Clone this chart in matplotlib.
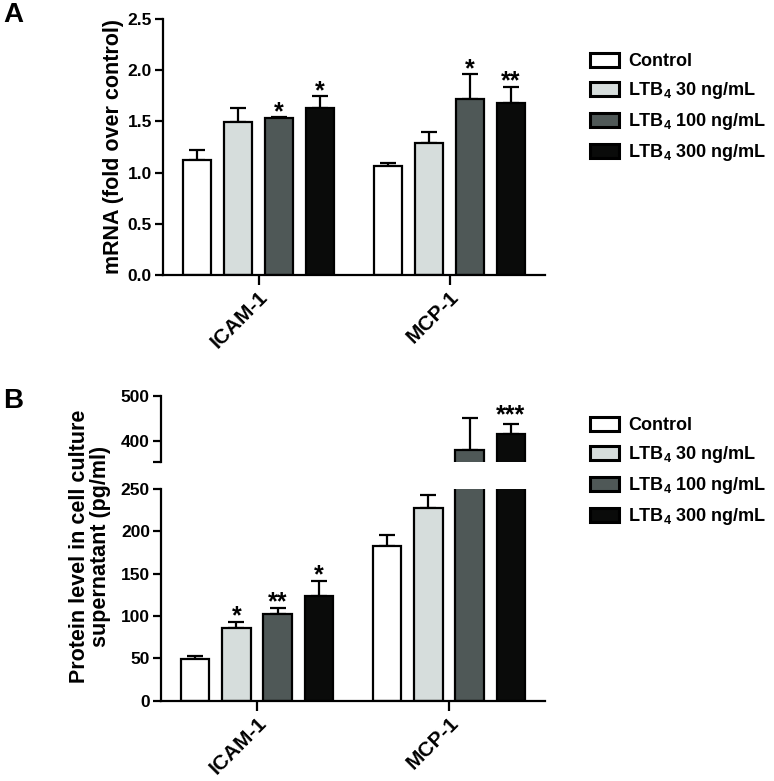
import numpy as np
import matplotlib
matplotlib.use('Agg')
import matplotlib.pyplot as plt
from matplotlib.patches import Patch

plt.rcParams['font.family'] = ['Liberation Sans', 'DejaVu Sans']
plt.rcParams['font.weight'] = 'bold'
plt.rcParams['mathtext.fontset'] = 'custom'
plt.rcParams['mathtext.rm'] = 'Liberation Sans:bold'
plt.rcParams['mathtext.it'] = 'Liberation Sans:bold'
plt.rcParams['mathtext.bf'] = 'Liberation Sans:bold'

# data
genes = ['ICAM-1', 'MCP-1']
groups = ['Control', r'LTB$_4$ 30 ng/mL', r'LTB$_4$ 100 ng/mL', r'LTB$_4$ 300 ng/mL']
colors = ['#ffffff', '#d6dddc', '#4f5857', '#0a0b0a']

# panel A: mRNA fold over control, rows = groups, cols = genes
mrna = [[1.12, 1.06],
        [1.49, 1.29],
        [1.535, 1.72],
        [1.635, 1.68]]
mrna_err = [[0.10, 0.03],
            [0.14, 0.11],
            [0.005, 0.24],
            [0.11, 0.16]]
mrna_stars = [['', ''], ['', ''], ['*', '*'], ['*', '**']]

# panel B: protein level (pg/ml)
prot = [[48.8, 183],
        [85.4, 227.6],
        [102, 378.5],
        [123, 415.7]]
prot_err = [[4, 12],
            [7, 15],
            [7, 71.5],
            [18, 21]]
prot_stars = [['', ''], ['*', ''], ['**', ''], ['*', '***']]

W, H = 774, 781
fig = plt.figure(figsize=(W / 100, H / 100), dpi=100)

def frac(x0, y0, x1, y1):
    return [x0 / W, 1 - y1 / H, (x1 - x0) / W, (y1 - y0) / H]

xg = np.arange(len(genes))
step = 0.2146
width = 0.147
offs = (np.arange(4) - 1.5) * step
lw = 1.6


def style(ax):
    for s in ['top', 'right']:
        ax.spines[s].set_visible(False)
    for s in ['left', 'bottom']:
        ax.spines[s].set_linewidth(lw)
    ax.tick_params(axis='y', width=lw, length=6, labelsize=12.5, pad=2)
    ax.tick_params(axis='x', width=lw, length=7, labelsize=15, pad=2)
    ax.set_xlim(-0.5, 1.5)


def draw_bars(ax, vals, errs):
    for i in range(4):
        x = xg + offs[i]
        ax.bar(x, vals[i], width, color=colors[i], edgecolor='black',
               linewidth=lw, zorder=2)
        ax.errorbar(x, vals[i], yerr=[np.zeros(2), errs[i]], fmt='none',
                    ecolor='black', elinewidth=lw, capsize=5.5, capthick=lw,
                    zorder=1)


def add_stars(axes, vals, errs, stars, pad, split=None):
    for i in range(4):
        for j in range(2):
            if not stars[i][j]:
                continue
            y = vals[i][j] + errs[i][j] + pad
            ax = axes[0]
            if split is not None and y > split:
                ax = axes[1]
            ax.text(xg[j] + offs[i], y, stars[i][j], ha='center', va='bottom',
                    fontsize=18, fontweight='bold')

# ---- panel A
axA = fig.add_axes(frac(163, 19, 545, 275))
style(axA)
draw_bars(axA, mrna, mrna_err)
add_stars([axA], mrna, mrna_err, mrna_stars, -0.07)
axA.set_ylim(0, 2.5)
axA.set_yticks(np.arange(0, 2.51, 0.5))
axA.set_yticklabels(['%.1f' % v for v in np.arange(0, 2.51, 0.5)])
axA.set_xticks(xg)
axA.set_xticklabels(genes, rotation=45, ha='right', rotation_mode='anchor')
fig.text(113 / W, 1 - 146 / H, 'mRNA (fold over control)', rotation=90,
         ha='center', va='center', fontsize=15.5, fontweight='bold')

handles = [Patch(facecolor=c, edgecolor='black', linewidth=2.2) for c in colors]
leg_kw = dict(loc='upper left', frameon=False, fontsize=13, handlelength=1.6,
              handleheight=0.85, labelspacing=0.55, handletextpad=0.5,
              borderpad=0, borderaxespad=0)
fig.legend(handles, groups, bbox_to_anchor=(590 / W, 1 - 53 / H), **leg_kw)

# ---- panel B (broken axis)
axB = fig.add_axes(frac(161, 488.7, 545, 700.7))
axBt = fig.add_axes(frac(161, 396, 545, 461.7), sharex=axB)
style(axB)
style(axBt)
for ax in (axB, axBt):
    draw_bars(ax, prot, prot_err)
add_stars([axB, axBt], prot, prot_err, prot_stars, -7, split=300)
axB.set_ylim(0, 250)
axB.set_yticks(np.arange(0, 251, 50))
axB.set_xticks(xg)
axB.set_xticklabels(genes, rotation=45, ha='right', rotation_mode='anchor')
axBt.set_ylim(353, 500)
axBt.set_yticks([400, 500])
axBt.set_yticks([353], minor=True)
axBt.tick_params(which='minor', length=6, width=lw)
axBt.spines['bottom'].set_visible(False)
axBt.tick_params(axis='x', bottom=False, labelbottom=False)
fig.text(90 / W, 1 - 546 / H, 'Protein level in cell culture\nsupernatant (pg/ml)',
         rotation=90, ha='center', va='center', fontsize=15.5, fontweight='bold',
         multialignment='center', linespacing=1.05)

fig.legend(handles, groups, bbox_to_anchor=(590 / W, 1 - 417 / H), **leg_kw)

fig.text(0.004, 1 - 2 / H, 'A', fontsize=20, fontweight='bold', va='top')
fig.text(0.004, 1 - 388 / H, 'B', fontsize=20, fontweight='bold', va='top')

fig.savefig('out.png', dpi=100)
